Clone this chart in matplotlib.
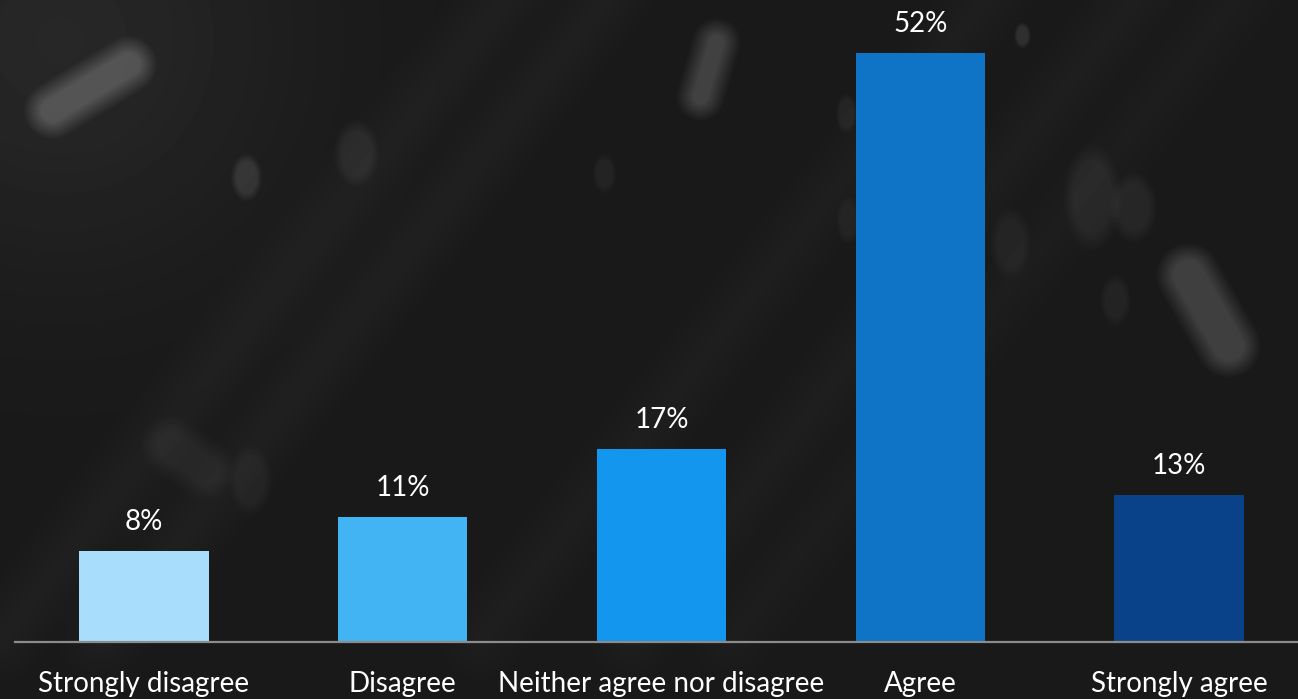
import numpy as np
import matplotlib
matplotlib.use("Agg")
import matplotlib.pyplot as plt

categories = ["Strongly disagree", "Disagree", "Neither agree nor disagree", "Agree", "Strongly agree"]
values = [8, 11, 17, 52, 13]
bar_colors = ["#A8DDFB", "#42B4F3", "#1396EE", "#0F73C6", "#0A4289"]

W, H = 1298, 699
plt.rcParams["font.family"] = ["Lato", "DejaVu Sans"]

# dark backdrop with soft out-of-focus light shapes
yy, xx = np.mgrid[0:H, 0:W].astype(float)
bg = np.full((H, W), 25.0)
bg += 14 * np.exp(-((xx - 60) ** 2 + (yy - 40) ** 2) / (2 * 160 ** 2))


def capsule(p0, p1, r, amp, soft=18.0):
    p0 = np.array(p0, float)
    p1 = np.array(p1, float)
    d = p1 - p0
    t = ((xx - p0[0]) * d[0] + (yy - p0[1]) * d[1]) / max(d @ d, 1e-9)
    t = np.clip(t, 0, 1)
    dist = np.hypot(xx - (p0[0] + t * d[0]), yy - (p0[1] + t * d[1]))
    return amp * np.clip((r - dist) / soft + 0.5, 0, 1)


def dot(c, rx, ry, amp, soft=0.45):
    e = np.sqrt(((xx - c[0]) / rx) ** 2 + ((yy - c[1]) / ry) ** 2)
    return amp * np.clip((1 - e) / soft + 0.5, 0, 1)


shapes = [
    capsule((52, 110), (128, 64), 20, 46),
    capsule((700, 96), (716, 42), 16, 40),
    capsule((1188, 275), (1228, 345), 24, 38),
    capsule((170, 445), (205, 470), 22, 12),
    dot((246, 177), 13, 20, 24),
    dot((356, 153), 19, 28, 14),
    dot((604, 173), 10, 17, 10),
    dot((1022, 35), 7, 11, 22),
    dot((846, 113), 9, 17, 12),
    dot((848, 220), 10, 20, 9),
    dot((1092, 197), 24, 45, 13),
    dot((1133, 207), 20, 30, 13),
    dot((1010, 243), 17, 30, 10),
    dot((1115, 300), 13, 22, 10),
    dot((250, 480), 18, 30, 9),
]
for s in shapes:
    bg += s

# faint diagonal streaks
for x0, amp in [(520, 6), (620, 6), (1000, 5), (1150, 5), (1250, 4)]:
    bg += capsule((x0, -20), (x0 - 520, 640), 26, amp, soft=40)

bg = np.clip(bg, 0, 255) / 255.0

fig = plt.figure(figsize=(W / 100, H / 100), dpi=100)
bg_ax = fig.add_axes([0, 0, 1, 1])
bg_ax.imshow(bg, cmap="gray", vmin=0, vmax=1, aspect="auto", interpolation="bilinear")
bg_ax.axis("off")

ax = fig.add_axes([14.5 / W, 57 / H, 1294 / W, 642 / H])
ax.patch.set_alpha(0)
x = np.arange(len(categories))
bars = ax.bar(x, values, width=0.5, color=bar_colors, zorder=2)
ax.set_xlim(-0.5, len(categories) - 0.5)
ax.set_ylim(0, 56.66)

for b, v in zip(bars, values):
    ax.annotate(f"{v}%", (b.get_x() + b.get_width() / 2, v), xytext=(0, 21),
                textcoords="offset points", ha="center", va="center",
                color="white", fontsize=20)

ax.set_xticks(x)
ax.set_xticklabels(categories, color="white", fontsize=20)
ax.tick_params(axis="x", length=0, pad=21)
ax.set_yticks([])
for side in ["left", "right", "top"]:
    ax.spines[side].set_visible(False)
ax.spines["bottom"].set_color("#8c8c8c")
ax.spines["bottom"].set_linewidth(1.6)

fig.savefig("out.png", dpi=100)
